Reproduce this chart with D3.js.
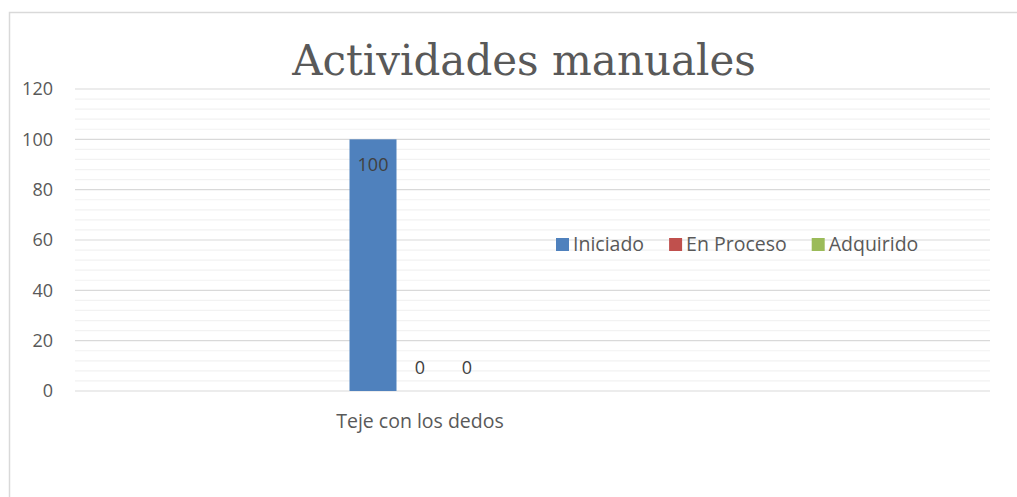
<!DOCTYPE html>
<html>
<head>
<meta charset="utf-8">
<script src="https://cdn.jsdelivr.net/npm/d3@7"></script>
<style>
  body { margin: 0; background: #fff; }
  text { fill: #595959; }
</style>
</head>
<body>
<div id="chart"></div>
<script>
//Chart data
let categories = ["Teje con los dedos"];
let seriesNames = ["Iniciado", "En Proceso", "Adquirido"];
let seriesValues = [[100], [0], [0]];
let yTicks = [0, 20, 40, 60, 80, 100, 120];
let colors = ["#4f81bd", "#c0504d", "#9bbb59"];

let width = 1017, height = 497;

let svg = d3.select("#chart").append("svg")
  .attr("width", width)
  .attr("height", height);

//Outer chart border (cut off at right and bottom)
svg.append("rect")
  .attr("x", 9.5).attr("y", 12.5)
  .attr("width", width + 20).attr("height", height + 20)
  .attr("fill", "white")
  .attr("stroke", "#d9d9d9")
  .attr("stroke-width", 1.5);

let plotLeft = 75, plotRight = 990;

let y = d3.scaleLinear().domain([0, 120]).range([391, 89]);
let x = d3.scaleBand().domain(categories).range([77, 763]);
let xs = d3.scaleBand().domain(seriesNames).range([0, 141]);

//Minor gridlines every 4 units
let minor = d3.range(0, 121, 4).filter(v => v % 20 !== 0);
svg.append("g").selectAll("line").data(minor).enter().append("line")
  .attr("x1", plotLeft).attr("x2", plotRight)
  .attr("y1", d => y(d)).attr("y2", d => y(d))
  .attr("stroke", "#f2f2f2").attr("stroke-width", 1.2);

//Major gridlines
svg.append("g").selectAll("line").data(yTicks).enter().append("line")
  .attr("x1", plotLeft).attr("x2", plotRight)
  .attr("y1", d => y(d)).attr("y2", d => y(d))
  .attr("stroke", "#d9d9d9").attr("stroke-width", 1.2);

//Y tick labels
svg.append("g").selectAll("text").data(yTicks).enter().append("text")
  .attr("x", 53).attr("y", d => y(d))
  .attr("dy", "0.35em")
  .attr("text-anchor", "end")
  .style("font-family", "'Open Sans', sans-serif")
  .style("font-size", "18px")
  .text(d => d);

//Bars
let rows = [];
seriesNames.forEach((s, i) => {
  categories.forEach((c, j) => {
    rows.push({ series: s, cat: c, value: seriesValues[i][j], color: colors[i] });
  });
});

let groupOffset = (x.bandwidth() - 141) / 2;

svg.append("g").selectAll("rect").data(rows).enter().append("rect")
  .attr("x", d => x(d.cat) + groupOffset + xs(d.series))
  .attr("y", d => y(d.value))
  .attr("width", xs.bandwidth())
  .attr("height", d => y(0) - y(d.value))
  .attr("fill", d => d.color);

//Value labels
svg.append("g").selectAll("text").data(rows).enter().append("text")
  .attr("x", d => x(d.cat) + groupOffset + xs(d.series) + xs.bandwidth() / 2)
  .attr("y", d => d.value > 0 ? y(d.value) + 32 : y(d.value) - 17)
  .attr("text-anchor", "middle")
  .style("font-family", "'Open Sans', sans-serif")
  .style("font-size", "18px")
  .style("fill", "#404040")
  .text(d => d.value);

//Category labels
svg.append("g").selectAll("text").data(categories).enter().append("text")
  .attr("x", d => x(d) + x.bandwidth() / 2)
  .attr("y", 428)
  .attr("text-anchor", "middle")
  .style("font-family", "'Open Sans', sans-serif")
  .style("font-size", "19.5px")
  .text(d => d);

//Title
svg.append("text")
  .attr("x", 524).attr("y", 75)
  .attr("text-anchor", "middle")
  .style("font-family", "'DejaVu Serif', serif")
  .style("font-size", "42px")
  .text("Actividades manuales");

//Legend
let legend = svg.append("g");
let lx = 556;
seriesNames.forEach((s, i) => {
  legend.append("rect")
    .attr("x", lx).attr("y", 238)
    .attr("width", 13).attr("height", 13)
    .attr("fill", colors[i]);
  let t = legend.append("text")
    .attr("x", lx + 17).attr("y", 251)
    .style("font-family", "'Open Sans', sans-serif")
    .style("font-size", "19.5px")
    .text(s);
  lx += 17 + t.node().getComputedTextLength() + 25;
});
</script>
</body>
</html>
